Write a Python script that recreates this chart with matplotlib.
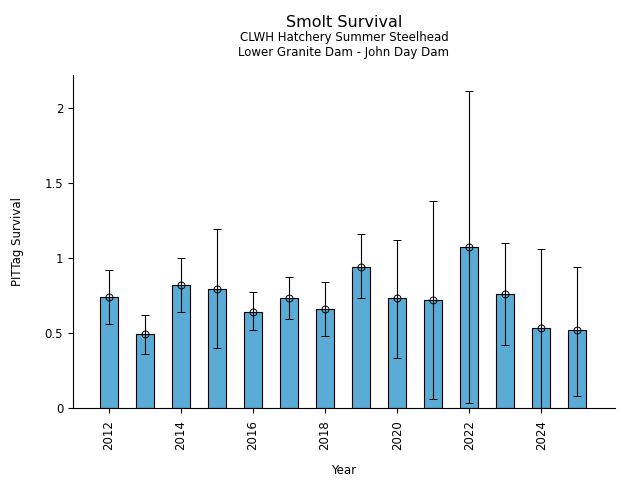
import matplotlib
matplotlib.use('Agg')
import matplotlib.pyplot as plt
from matplotlib.ticker import FuncFormatter

# survival estimates
years = [2012, 2013, 2014, 2015, 2016, 2017, 2018, 2019, 2020, 2021, 2022, 2023, 2024, 2025]
survival = [0.74, 0.49, 0.82, 0.79, 0.64, 0.73, 0.66, 0.94, 0.73, 0.72, 1.07, 0.76, 0.53, 0.52]
upper = [0.92, 0.62, 1.00, 1.19, 0.77, 0.87, 0.84, 1.16, 1.12, 1.38, 2.11, 1.10, 1.06, 0.94]
lower = [0.56, 0.36, 0.64, 0.40, 0.52, 0.59, 0.48, 0.73, 0.33, 0.06, 0.03, 0.42, 0.00, 0.08]

bar_color = '#5aacd6'

fig = plt.figure(figsize=(6.4, 4.8), dpi=100)
ax = fig.add_axes([0.114, 0.15, 0.847, 0.694])

ax.bar(years, survival, width=0.5, color=bar_color, edgecolor='black', linewidth=0.8, zorder=2)
yerr = [[s - l for s, l in zip(survival, lower)], [u - s for s, u in zip(survival, upper)]]
ax.errorbar(years, survival, yerr=yerr, fmt='o', mfc='none', mec='black', ms=5, mew=0.7,
            ecolor='black', elinewidth=0.8, capsize=3, capthick=0.8, zorder=3)

ax.set_xlim(2011, 2026.05)
ax.set_ylim(0, 2.22)
ax.set_xticks(years[::2])
ax.tick_params(axis='x', labelrotation=90, labelsize=8.5, pad=5)
ax.tick_params(axis='y', labelsize=8.5)
ax.set_yticks([0, 0.5, 1, 1.5, 2])
ax.yaxis.set_major_formatter(FuncFormatter(lambda v, p: f'{v:g}'))
ax.spines['top'].set_visible(False)
ax.spines['right'].set_visible(False)

ax.set_xlabel('Year', fontsize=8.5, labelpad=10)
ax.set_ylabel('PITTag Survival', fontsize=8.5, labelpad=15)

fig.text(0.5375, 0.953, 'Smolt Survival', ha='center', va='center', fontsize=11.5)
fig.text(0.5375, 0.921, 'CLWH Hatchery Summer Steelhead', ha='center', va='center', fontsize=8.5)
fig.text(0.5375, 0.891, 'Lower Granite Dam - John Day Dam', ha='center', va='center', fontsize=8.5)

fig.savefig('out.png', dpi=100)
